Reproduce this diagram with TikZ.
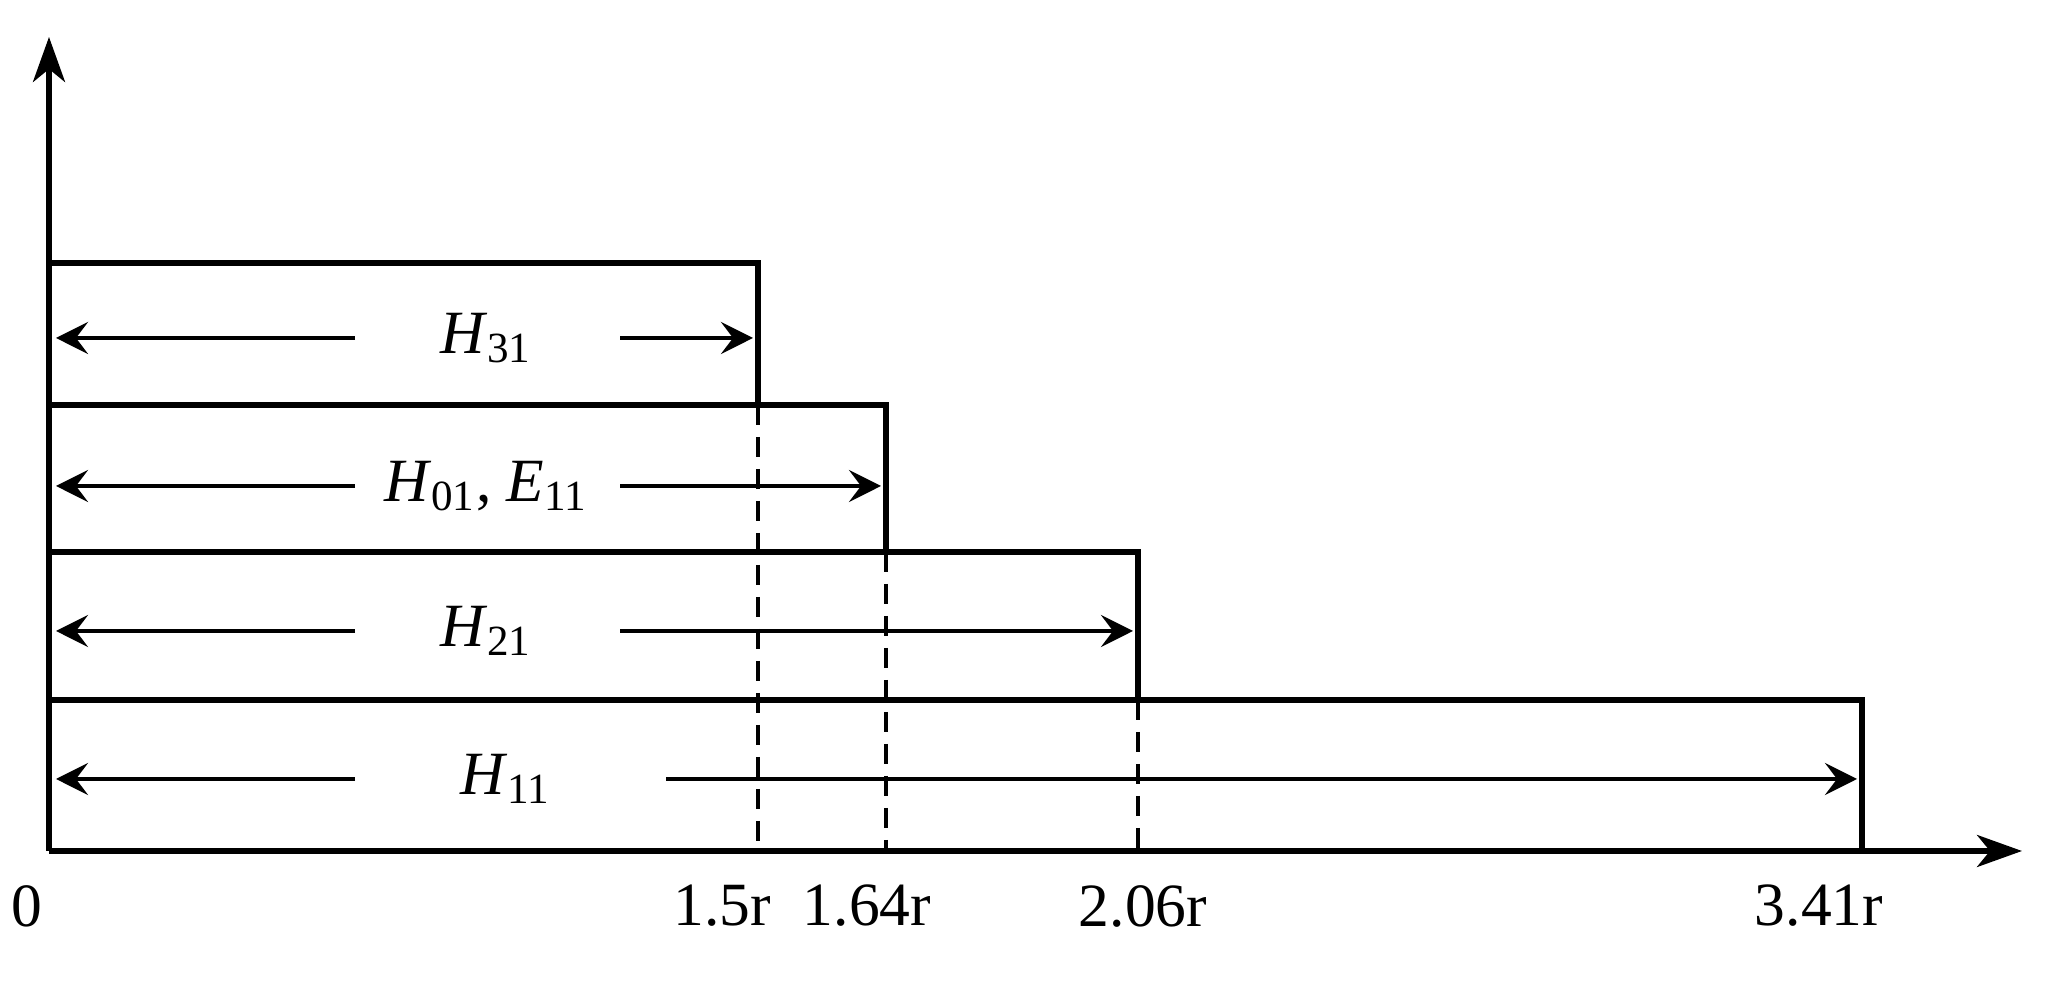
\documentclass[tikz,border=0pt]{standalone}
\usepackage{fontspec}
\setmainfont{Liberation Serif}
\usetikzlibrary{arrows.meta}
\tikzset{
  axisarrow/.style={-{Stealth[length=4.5mm,width=3.2mm,inset=1.3mm]}},
  rowarrow/.style={-{Stealth[length=3.2mm,width=3.2mm,inset=1.2mm]}, line width=1.2pt},
  cutline/.style={dash pattern=on 2mm off 1.2mm, line width=1.2pt},
}
\begin{document}
\begin{tikzpicture}[line width=1.5pt, font=\fontsize{17.5}{20}\selectfont]
  \useasboundingbox (-0.49,-1.31) rectangle (20.09,8.51);
  % axes
  \coordinate (o) at (0,0);
  \coordinate (ytip) at (0,8.14);
  \coordinate (xtip) at (19.73,0);
  \draw[axisarrow] (o) -- (ytip);
  \draw[axisarrow] (o) -- (xtip);
  \node (zero) at (-0.22,-0.55) {0};
  % bands: top/bottom/right edge/arrow height/arrow start/label x/label/tick x/tick
  \foreach \i/\yt/\yb/\xr/\ya/\xs/\lx/\txt/\tx/\tick in {
      1/5.88/4.46/7.09/5.13/5.71/4.37/{\textit{H}\textsubscript{31}}/6.73/1.5r,
      2/4.46/2.99/8.37/3.65/5.71/4.37/{\textit{H}\textsubscript{01}, \textit{E}\textsubscript{11}}/8.18/1.64r,
      3/2.99/1.51/10.89/2.20/5.71/4.37/{\textit{H}\textsubscript{21}}/10.94/2.06r,
      4/1.51/0/18.13/0.72/6.17/4.57/{\textit{H}\textsubscript{11}}/17.70/3.41r}{
    \coordinate (tl\i) at (0,\yt);
    \coordinate (tr\i) at (\xr,\yt);
    \coordinate (br\i) at (\xr,\yb);
    \coordinate (foot\i) at (\xr,0);
    \draw (tl\i) -- (tr\i) -- (br\i);
    % label and arrows
    \node (lab\i) at (\lx,\ya) {\txt};
    \coordinate (al\i) at (3.06,\ya);
    \coordinate (wl\i) at (0.07,\ya);
    \coordinate (ar\i) at (\xs,\ya);
    \coordinate (wr\i) at (\xr-0.05,\ya);
    \draw[rowarrow] (al\i) -- (wl\i);
    \draw[rowarrow] (ar\i) -- (wr\i);
    \node (tick\i) at (\tx,-0.55) {\tick};
  }
  % cut-off lines
  \foreach \i in {1,2,3}
    \draw[cutline] (br\i) -- (foot\i);
\end{tikzpicture}
\end{document}
